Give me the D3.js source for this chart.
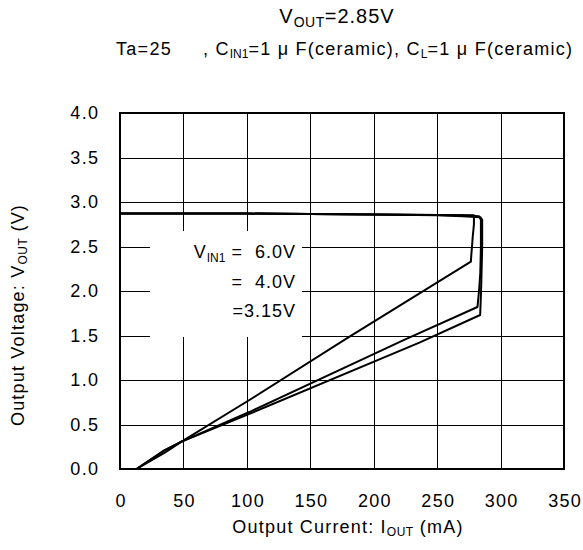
<!DOCTYPE html>
<html>
<head>
<meta charset="utf-8">
<script src="https://cdn.jsdelivr.net/npm/d3@7"></script>
<style>
  html, body { margin: 0; padding: 0; background: #fff; }
  svg { display: block; }
  text { font-family: "Liberation Sans", Arial, sans-serif; fill: #000; }
</style>
</head>
<body>
<svg id="chart" width="583" height="550"></svg>
<script>
// ---- Data ----
const xTicks = [0, 50, 100, 150, 200, 250, 300, 350];
const yTicks = [0.0, 0.5, 1.0, 1.5, 2.0, 2.5, 3.0, 3.5, 4.0];
const seriesNames = ["6.0V", "4.0V", "3.15V"];

// IOUT (mA) and VOUT (V) for VIN1 = 6.0V
const iout60 = [0, 50, 100, 150, 200, 250, 270, 279, 279, 278, 277.5, 277, 276.6, 180, 102, 48.5, 35, 13];
const vout60 = [2.87, 2.87, 2.87, 2.865, 2.86, 2.855, 2.85, 2.85, 2.75, 2.6, 2.5, 2.42, 2.33, 1.48, 0.775, 0.307, 0.18, 0];
// VIN1 = 4.0V
const iout40 = [0, 50, 100, 150, 200, 250, 270, 283, 284.5, 284.5, 284, 283, 281.8, 224, 102, 48.5, 35, 13];
const vout40 = [2.87, 2.87, 2.87, 2.865, 2.86, 2.855, 2.85, 2.84, 2.8, 2.5, 2.2, 2.0, 1.82, 1.45, 0.64, 0.307, 0.21, 0];
// VIN1 = 3.15V
const iout315 = [0, 50, 100, 150, 200, 250, 270, 284, 285.5, 285.5, 285, 284.5, 283.9, 236, 102, 48.5, 35, 13];
const vout315 = [2.87, 2.87, 2.87, 2.865, 2.86, 2.85, 2.84, 2.83, 2.8, 2.5, 2.2, 1.95, 1.73, 1.42, 0.62, 0.307, 0.21, 0];

const svg = d3.select("#chart");
const L = 120, R = 564, T = 113, B = 469;
const x = d3.scaleLinear().domain([0, 350]).range([L, R]);
const y = d3.scaleLinear().domain([0, 4]).range([B, T]);
const FONT = "Liberation Sans, Arial, sans-serif";
const LS = 1.3;

// grid
const grid = svg.append("g");
grid.selectAll("line.v").data(xTicks.slice(1, -1)).enter().append("line")
  .attr("x1", d => Math.round(x(d)) + 0.5).attr("x2", d => Math.round(x(d)) + 0.5)
  .attr("y1", T).attr("y2", B).attr("stroke", "#000").attr("stroke-width", 1);
grid.selectAll("line.h").data(yTicks.slice(1, -1)).enter().append("line")
  .attr("y1", d => Math.round(y(d)) + 0.5).attr("y2", d => Math.round(y(d)) + 0.5)
  .attr("x1", L).attr("x2", R).attr("stroke", "#000").attr("stroke-width", 1);

// legend background (white box over grid)
svg.append("rect").attr("x", 150).attr("y", 231).attr("width", 152).attr("height", 106).attr("fill", "#fff");

// axes via d3 (ticks hidden, used for labels)
const fs = 18;
const xAxis = svg.append("g").attr("transform", `translate(${LS / 2},${B})`)
  .call(d3.axisBottom(x).tickValues(xTicks).tickSize(0).tickPadding(25).tickFormat(d3.format("d")));
xAxis.select(".domain").remove();
xAxis.selectAll("text").style("font-size", fs + "px").style("font-family", FONT).style("letter-spacing", LS + "px");

const yAxis = svg.append("g").attr("transform", `translate(${L + LS},0)`)
  .call(d3.axisLeft(y).tickValues(yTicks).tickSize(0).tickPadding(22).tickFormat(d3.format(".1f")));
yAxis.select(".domain").remove();
yAxis.selectAll("text").style("font-size", fs + "px").style("font-family", FONT).style("letter-spacing", LS + "px");

// curves
const line = d3.line().x(d => x(d[0])).y(d => y(d[1]));
const series = [
  d3.zip(iout60, vout60),
  d3.zip(iout40, vout40),
  d3.zip(iout315, vout315)
];
svg.append("g").selectAll("path").data(series).enter().append("path")
  .attr("d", line).attr("fill", "none").attr("stroke", "#000")
  .attr("stroke-width", 2).attr("stroke-linejoin", "round");

// frame
svg.append("rect").attr("x", L).attr("y", T).attr("width", R - L).attr("height", B - T)
  .attr("fill", "none").attr("stroke", "#000").attr("stroke-width", 2);

// legend text
const lg = svg.append("g").style("font-size", "18px").style("letter-spacing", "1px");
const t1 = lg.append("text").attr("x", 296).attr("y", 258).attr("text-anchor", "end");
t1.append("tspan").text("V");
t1.append("tspan").attr("dy", 4).style("font-size", "12px").style("letter-spacing", "0px").text("IN1");
t1.append("tspan").attr("dy", -4).text(" =  " + seriesNames[0]);
lg.append("text").attr("x", 296).attr("y", 288).attr("text-anchor", "end").text("=  " + seriesNames[1]);
lg.append("text").attr("x", 296).attr("y", 317).attr("text-anchor", "end").text("=" + seriesNames[2]);
lg.selectAll("text").style("white-space", "pre");

// title
const title = svg.append("text").attr("x", 337).attr("y", 23).attr("text-anchor", "middle")
  .style("font-size", "20px").style("letter-spacing", "1px");
title.append("tspan").text("V");
title.append("tspan").attr("dy", 4).style("font-size", "14px").style("letter-spacing", "0.5px").text("OUT");
title.append("tspan").attr("dy", -4).text("=2.85V");

// subtitle
svg.append("text").attr("x", 116).attr("y", 55).style("font-size", "18px").style("letter-spacing", "1.3px").text("Ta=25");
const sub = svg.append("text").attr("x", 203).attr("y", 55).style("font-size", "18px").style("letter-spacing", "1.25px");
sub.append("tspan").text(", C");
sub.append("tspan").attr("dy", 3).style("font-size", "12px").style("letter-spacing", "0px").text("IN1");
sub.append("tspan").attr("dy", -3).text("=1 μ F(ceramic), C");
sub.append("tspan").attr("dy", 3).style("font-size", "12px").style("letter-spacing", "0px").text("L");
sub.append("tspan").attr("dy", -3).text("=1 μ F(ceramic)");

// x axis title
const xt = svg.append("text").attr("x", 348).attr("y", 533).attr("text-anchor", "middle")
  .style("font-size", "18px").style("letter-spacing", "1.2px");
xt.append("tspan").text("Output Current: I");
xt.append("tspan").attr("dy", 3).style("font-size", "12px").style("letter-spacing", "0.5px").text("OUT");
xt.append("tspan").attr("dy", -3).text(" (mA)");

// y axis title
const yt = svg.append("text").attr("transform", "translate(24,315) rotate(-90)").attr("text-anchor", "middle")
  .style("font-size", "18px").style("letter-spacing", "1.2px");
yt.append("tspan").text("Output Voltage: V");
yt.append("tspan").attr("dy", 3).style("font-size", "12px").style("letter-spacing", "0.5px").text("OUT");
yt.append("tspan").attr("dy", -3).text(" (V)");
</script>
</body>
</html>
